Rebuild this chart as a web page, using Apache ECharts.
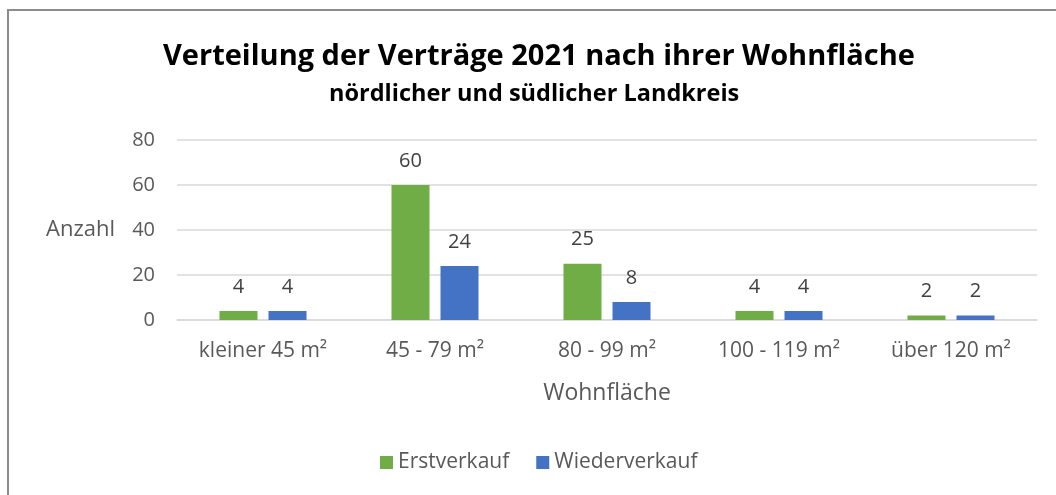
<!DOCTYPE html>
<html>
<head>
<meta charset="utf-8">
<script src="https://cdn.jsdelivr.net/npm/echarts@6/dist/echarts.min.js"></script>
<style>
  html, body { margin: 0; padding: 0; background: #fff; }
  #frame { position: absolute; left: 7px; top: 9px; width: 1049px; height: 486px;
           border-left: 2px solid #8c8c8c; border-top: 2px solid #8c8c8c; box-sizing: border-box; }
  #chart { position: absolute; left: 0; top: 0; width: 1056px; height: 495px; }
</style>
</head>
<body>
<div id="frame"></div>
<div id="chart"></div>
<script>
// Wohnflächen-Klassen und Anzahl der Verträge 2021
const categories = ['kleiner 45 m²', '45 - 79 m²', '80 - 99 m²', '100 - 119 m²', 'über 120 m²'];
const erstverkauf = [4, 60, 25, 4, 2];
const wiederverkauf = [4, 24, 8, 4, 2];
const yTicks = [0, 20, 40, 60, 80];

const FONT = '"Open Sans", Lato, sans-serif';
const chart = echarts.init(document.getElementById('chart'), null, { renderer: 'canvas' });

const labelStyle = {
  show: true, position: 'top', distance: 14,
  color: '#404040', fontSize: 20, fontFamily: FONT
};

chart.setOption({
  animation: false,
  title: [
    { text: 'Verteilung der Verträge 2021 nach ihrer Wohnfläche', left: 158, top: 37,
      textStyle: { fontFamily: FONT, fontWeight: 'bold', fontSize: 29, color: '#000' } },
    { text: 'nördlicher und südlicher Landkreis', left: 324, top: 77,
      textStyle: { fontFamily: FONT, fontWeight: 'bold', fontSize: 23.5, color: '#000' } }
  ],
  legend: {
    bottom: 17, left: 375, itemWidth: 13, itemHeight: 13, itemGap: 27,
    icon: 'rect',
    textStyle: { fontFamily: FONT, fontSize: 21, color: '#595959' },
    data: ['Erstverkauf', 'Wiederverkauf']
  },
  grid: { left: 177, right: 19, top: 140, height: 180 },
  xAxis: {
    type: 'category', data: categories,
    name: 'Wohnfläche', nameLocation: 'middle', nameGap: 62,
    nameTextStyle: { fontFamily: FONT, fontSize: 23, color: '#595959' },
    axisLine: { lineStyle: { color: '#d9d9d9', width: 1.5 } },
    axisTick: { show: false },
    axisLabel: { fontFamily: FONT, fontSize: 21, color: '#595959', margin: 21 },
  },
  yAxis: {
    type: 'value', min: yTicks[0], max: yTicks[yTicks.length - 1], interval: 20,
    name: 'Anzahl', nameLocation: 'middle', nameRotate: 0, nameGap: 62,
    nameTextStyle: { fontFamily: FONT, fontSize: 22, color: '#595959' },
    axisLine: { show: false }, axisTick: { show: false },
    axisLabel: { fontFamily: FONT, fontSize: 20, color: '#595959', margin: 22 },
    splitLine: { lineStyle: { color: '#d9d9d9', width: 1.5 } }
  },
  series: [
    { name: 'Erstverkauf', type: 'bar', data: erstverkauf, barWidth: 38, barGap: '29%',
      itemStyle: { color: '#70ad47' }, label: labelStyle },
    { name: 'Wiederverkauf', type: 'bar', data: wiederverkauf, barWidth: 38, barGap: '29%',
      itemStyle: { color: '#4472c4' }, label: labelStyle }
  ]
});
</script>
</body>
</html>
